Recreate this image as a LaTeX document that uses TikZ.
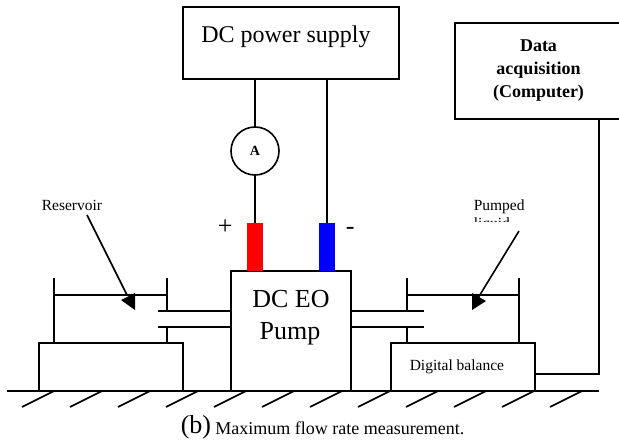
\documentclass[tikz,border=0pt]{standalone}
\usepackage{fontspec}
\setmainfont{Liberation Serif}
\usetikzlibrary{calc}
\newcommand{\fs}[1]{\fontsize{#1}{#1}\selectfont}

\begin{document}
\begin{tikzpicture}[
  x=1pt,y=-1pt,line width=1.6pt,
  box/.style={draw,outer sep=0pt,inner sep=0pt,align=center},
  term/.style={fill=#1,outer sep=0pt,inner sep=0pt,minimum width=16pt,minimum height=48pt},
  bigtext/.style={anchor=base west,inner sep=0pt,font=\fs{24}},
  hugetext/.style={anchor=base,inner sep=0pt,font=\fs{26}},
  smalltext/.style={anchor=base west,inner sep=0pt,font=\fs{15.5}},
  captext/.style={anchor=base west,inner sep=0pt,font=\fs{18}}
]
\useasboundingbox (0,0) rectangle (619,442);

% boxes
\node[box,minimum width=216pt,minimum height=72pt] (supply) at (291,43) {};
\node[bigtext] (supplytext) at (200.5,42) {DC power supply};
\node[box,minimum width=167pt,minimum height=96pt,font=\bfseries\fontsize{18}{23}\selectfont] (data) at (538.5,71) {Data\\acquisition\\(Computer)};
\node[box,minimum width=120pt,minimum height=120pt] (pump) at (291,331) {};
\node[hugetext] (pumptext) at (291,307) {DC EO};
\node[hugetext] (pumptext2) at (290,339) {Pump};
\node[box,minimum width=144pt,minimum height=48pt] (leftbase) at (111,367) {};
\node[box,minimum width=144pt,minimum height=48pt] (balance) at (463,367) {};
\node[smalltext] (balancetext) at (409,370) {Digital balance};

% meter and terminals
\node[box,circle,minimum size=48pt,font=\bfseries\fs{14}] (meter) at (255,151) {A};
\node[term=red] (plusterm) at (255,247) {};
\node[term=blue] (minusterm) at (327,247) {};
\node[hugetext,anchor=base west] (plus) at (217,234) {+};
\node[hugetext,anchor=base west] (minus) at (345,234) {-};

% wires
\draw (meter |- supply.south) -- (meter);
\draw (meter) -- (plusterm.north);
\draw (minusterm |- supply.south) -- (minusterm.north);
\coordinate (datacorner) at (599,374);
\draw (data.south -| datacorner) -- (datacorner) -- (balance.east |- datacorner);

% ground
\coordinate (groundl) at (7,391);
\coordinate (groundr) at (599,391);
\draw (groundl) -- (groundr);
\foreach \hx in {54,102,...,582}
  \draw (\hx,391) -- ++(-32,16);

% left reservoir
\coordinate (lwall) at (54,278);
\coordinate (rwall) at (167,278);
\draw (lwall) -- (lwall |- leftbase.north);
\draw (rwall) -- (167,311);
\draw (167,327) -- (rwall |- leftbase.north);
\draw (54,295) -- (167,295);
\draw (158,311) -- (pump.west |- 0,311);
\draw (158,327) -- (pump.west |- 0,327);

% right reservoir
\coordinate (lwall2) at (407,278);
\coordinate (rwall2) at (519,278);
\draw (lwall2) -- (407,311);
\draw (407,327) -- (lwall2 |- balance.north);
\draw (rwall2) -- (rwall2 |- balance.north);
\draw (407,295) -- (519,295);
\draw (pump.east |- 0,311) -- (424,311);
\draw (pump.east |- 0,327) -- (424,327);

% pointers
\node[smalltext] (reservoir) at (41,210) {Reservoir};
\coordinate (resend) at (127,295);
\draw (87,215) -- (resend);
\fill (135,293) -- (135,310) -- (121,300) -- cycle;

\node[smalltext] (pumped) at (473,210) {Pumped};
\begin{scope}
  \clip (460,200) rectangle (540,221);
  \node[smalltext] (liquid) at (473,228) {liquid};
\end{scope}
\coordinate (pumpedend) at (478,298);
\draw (519,231) -- (pumpedend);
\fill (472,293) -- (472,310) -- (486,301) -- cycle;

% caption
\node[hugetext,anchor=base west] (capb) at (180,433) {(b)};
\node[captext] (captiontext) at (214.5,434) {Maximum flow rate measurement.};
\end{tikzpicture}
\end{document}
